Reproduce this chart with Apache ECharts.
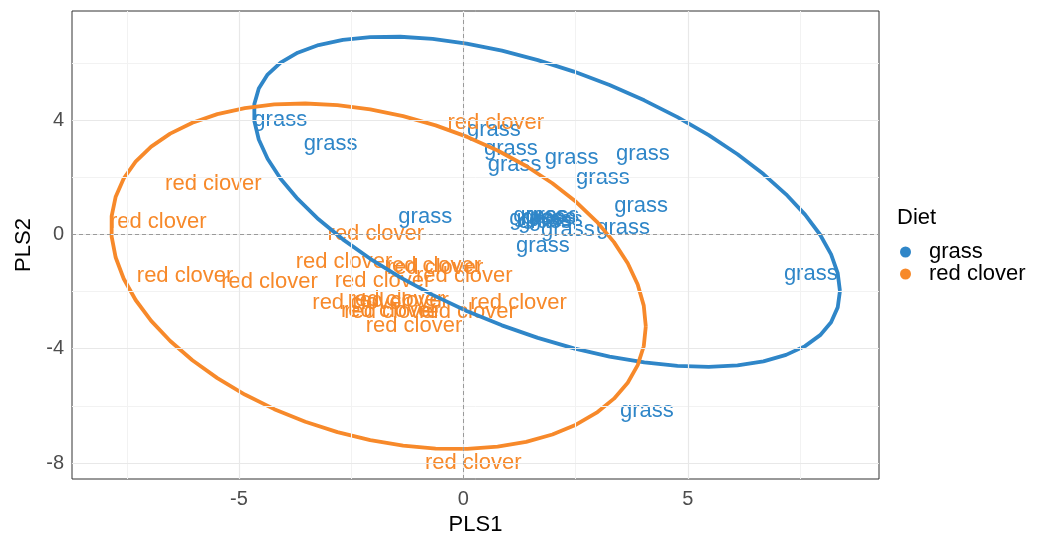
<!DOCTYPE html>
<html>
<head>
<meta charset="utf-8">
<script src="https://cdn.jsdelivr.net/npm/echarts@6/dist/echarts.min.js"></script>
<style>
  html, body { margin: 0; padding: 0; background: #fff; }
  #chart { width: 1043px; height: 538px; }
</style>
</head>
<body>
<div id="chart"></div>
<script>
// PLS scores, one label per sample (some overplotted in the dense clusters)
const grassX = [-4.08, -2.96, -0.85, 0.68, 1.06, 1.14, 2.41, 4.00, 3.11, 3.96, 3.56, 2.33, 1.71, 1.62, 1.91, 1.82, 1.98, 2.06, 1.77, 7.74, 4.09];
const grassY = [4.14, 3.30, 0.76, 3.79, 3.13, 2.58, 2.81, 2.97, 2.13, 1.13, 0.37, 0.29, 0.78, 0.68, 0.71, 0.57, 0.80, 0.64, -0.27, -1.23, -6.04];
const cloverX = [-5.57, -6.80, -1.95, 0.72, -6.20, -4.32, -2.66, -1.79, -0.68, -0.63, 0.02, -2.29, -1.50, -1.40, -1.58, -1.65, -1.10, 0.09, 1.23, 0.22];
const cloverY = [1.90, 0.59, 0.16, 4.03, -1.33, -1.51, -0.84, -1.48, -0.98, -1.02, -1.31, -2.26, -2.17, -2.18, -2.59, -2.53, -3.08, -2.59, -2.26, -7.86];

// axes
const xRange = [-8.72, 9.26];
const yRange = [-8.56, 7.82];
const xTicks = [-5, 0, 5];
const yTicks = [-8, -4, 0, 4];
const xMinor = [-7.5, -2.5, 2.5, 7.5];
const yMinor = [-6, -2, 2, 6];

const blue = "#2f86c8";
const orange = "#f7892a";
const font = "Liberation Sans, Arial, sans-serif";

// 95% normal ellipse (sample mean + covariance), like stat_ellipse(type = "norm")
function ellipse(xs, ys) {
  const n = xs.length;
  const mx = xs.reduce((s, v) => s + v, 0) / n;
  const my = ys.reduce((s, v) => s + v, 0) / n;
  let a = 0, b = 0, c = 0;
  for (let i = 0; i < n; i++) {
    a += (xs[i] - mx) * (xs[i] - mx);
    b += (xs[i] - mx) * (ys[i] - my);
    c += (ys[i] - my) * (ys[i] - my);
  }
  a /= n - 1; b /= n - 1; c /= n - 1;
  const d = n - 1;
  const q = (d / 2) * (Math.pow(0.05, -2 / d) - 1); // qf(0.95, 2, n-1)
  const r = Math.sqrt(2 * q);
  const r11 = Math.sqrt(a), r12 = b / r11, r22 = Math.sqrt(c - r12 * r12);
  const out = [];
  for (let i = 0; i <= 51; i++) {
    const t = (i * 2 * Math.PI) / 51;
    const u = Math.cos(t), v = Math.sin(t);
    out.push([mx + r * u * r11, my + r * (u * r12 + v * r22)]);
  }
  return out;
}

const chart = echarts.init(document.getElementById("chart"));

function textSeries(name, xs, ys, color) {
  return {
    name: name,
    type: "scatter",
    symbolSize: 0,
    z: 3,
    itemStyle: { color: color, opacity: 1 },
    label: {
      show: true,
      position: "inside",
      offset: [0, 4],
      formatter: name,
      color: color,
      fontSize: 22,
      fontFamily: font,
    },
    emphasis: { disabled: true },
    data: xs.map((x, i) => [x, ys[i]]),
  };
}

function ellipseSeries(name, xs, ys, color) {
  return {
    name: name,
    type: "line",
    z: 4,
    symbol: "none",
    smooth: false,
    lineStyle: { color: color, width: 3.8 },
    data: ellipse(xs, ys),
  };
}

const option = {
  animation: false,
  backgroundColor: "#fff",
  title: {
    text: "Diet",
    left: 897,
    top: 207,
    padding: 0,
    textStyle: { fontSize: 22, fontWeight: "normal", color: "#000", fontFamily: font },
  },
  legend: {
    data: ["grass", "red clover"],
    orient: "vertical",
    left: 900,
    top: 241,
    icon: "circle",
    itemWidth: 11,
    itemHeight: 11,
    itemGap: 0,
    padding: 0,
    selectedMode: false,
    itemStyle: { opacity: 1 },
    textStyle: { fontSize: 22, color: "#000", fontFamily: font, lineHeight: 21, padding: [0, 0, 0, 13] },
  },
  grid: {
    left: 72,
    right: 164,
    top: 11,
    bottom: 59,
    show: true,
    borderColor: "#333",
    borderWidth: 1,
    outerBoundsMode: "none",
    containLabel: false,
  },
  xAxis: {
    type: "value",
    min: xRange[0],
    max: xRange[1],
    name: "PLS1",
    nameLocation: "middle",
    nameGap: 34,
    nameTextStyle: { fontSize: 22, color: "#000", fontFamily: font },
    axisLine: { show: false },
    splitLine: { show: false },
    axisTick: { show: true, customValues: xTicks, length: 4, lineStyle: { color: "#333" } },
    axisLabel: { customValues: xTicks, fontSize: 20, color: "#4d4d4d", margin: 10, fontFamily: font },
  },
  yAxis: {
    type: "value",
    min: yRange[0],
    max: yRange[1],
    name: "PLS2",
    nameLocation: "middle",
    nameGap: 31,
    nameTextStyle: { fontSize: 22, color: "#000", fontFamily: font },
    axisLine: { show: false },
    splitLine: { show: false },
    axisTick: { show: true, customValues: yTicks, length: 4, lineStyle: { color: "#333" } },
    axisLabel: { customValues: yTicks, fontSize: 20, color: "#4d4d4d", margin: 8, fontFamily: font },
  },
  series: [
    {
      name: "grid",
      type: "line",
      z: 1,
      data: [],
      markLine: {
        silent: true,
        symbol: "none",
        label: { show: false },
        animation: false,
        data: [
          ...xMinor.map((v) => ({ xAxis: v, lineStyle: { color: "#f2f2f2", width: 1, type: "solid" } })),
          ...yMinor.map((v) => ({ yAxis: v, lineStyle: { color: "#f2f2f2", width: 1, type: "solid" } })),
          ...xTicks.map((v) => ({ xAxis: v, lineStyle: { color: "#e8e8e8", width: 1.2, type: "solid" } })),
          ...yTicks.map((v) => ({ yAxis: v, lineStyle: { color: "#e8e8e8", width: 1.2, type: "solid" } })),
        ],
      },
    },
    {
      name: "zero",
      type: "line",
      z: 2,
      data: [],
      markLine: {
        silent: true,
        symbol: "none",
        label: { show: false },
        animation: false,
        lineStyle: { color: "#9a9a9a", width: 1, type: [4, 3] },
        data: [{ xAxis: 0 }, { yAxis: 0 }],
      },
    },
    textSeries("grass", grassX, grassY, blue),
    textSeries("red clover", cloverX, cloverY, orange),
    ellipseSeries("grass ellipse", grassX, grassY, blue),
    ellipseSeries("red clover ellipse", cloverX, cloverY, orange),
  ],
};

chart.setOption(option);
</script>
</body>
</html>
